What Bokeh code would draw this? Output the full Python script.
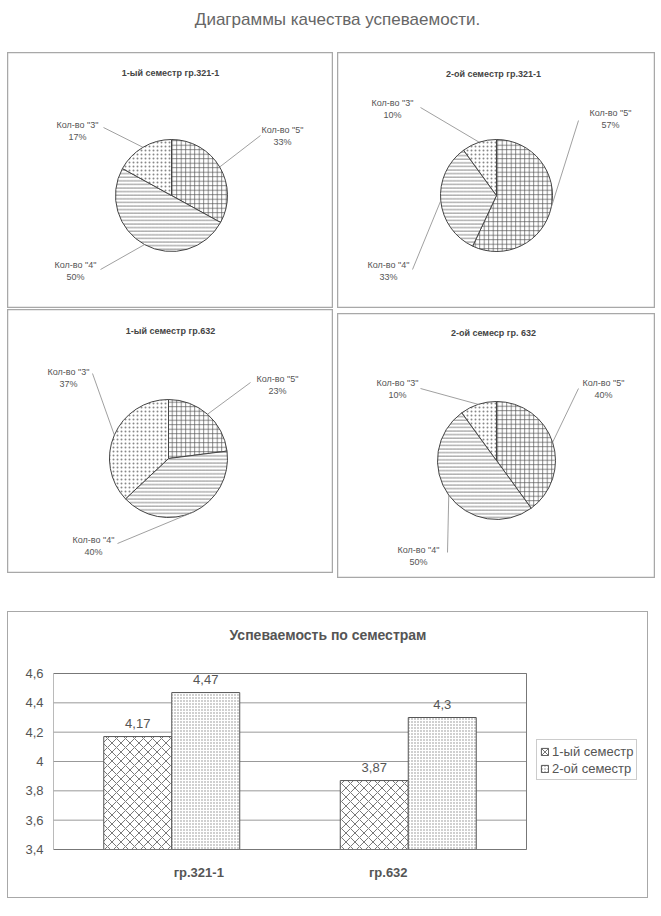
import numpy as np
from bokeh.plotting import figure
from bokeh.models import (Range1d, ColumnDataSource, Legend, LegendItem,
                          FixedTicker, CustomJSTickFormatter, Spacer)
from bokeh.layouts import column, row
from bokeh.transform import dodge
from bokeh.core.properties import value
from bokeh.embed import file_html
from bokeh.resources import INLINE

# ---------------- data ----------------
main_title = "Диаграммы качества успеваемости."
pie_titles = ["1-ый семестр гр.321-1", "2-ой семестр гр.321-1",
              "1-ый семестр гр.632", "2-ой семеср гр. 632"]
grade_labels = ['Кол-во "5"', 'Кол-во "4"', 'Кол-во "3"']
share_321_s1 = [33, 50, 17]
share_321_s2 = [57, 33, 10]
share_632_s1 = [23, 40, 37]
share_632_s2 = [40, 50, 10]

bar_title = "Успеваемость по семестрам"
groups = ["гр.321-1", "гр.632"]
semesters = ["1-ый семестр", "2-ой семестр"]
avg_sem1 = [4.17, 3.87]
avg_sem2 = [4.47, 4.3]
y_ticks = [3.4, 3.6, 3.8, 4.0, 4.2, 4.4, 4.6]

FONT = "Liberation Sans"
HATCH = ["+", "-", "."]
HSCALE = [4.5, 3.6, 4.0]
HWEIGHT = [0.7, 0.7, 0.4]
HCOLOR = ["#555555", "#555555", "#888888"]


def fmt_num(v):
    s = f"{v:.2f}".rstrip("0").rstrip(".")
    return s.replace(".", ",")


def bare_fig(W, H):
    p = figure(width=W, height=H, x_range=Range1d(0, W), y_range=Range1d(0, H),
               output_backend="svg", toolbar_location=None, min_border=0,
               x_axis_location=None, y_axis_location=None)
    p.grid.visible = False
    return p


def pie_panel(title, shares, origin, size, center, r, title_xy, blocks, leads):
    ox, oy = origin
    W, H = size
    lx = lambda x: x - ox
    ly = lambda y: H - (y - oy)
    p = bare_fig(W, H)
    p.outline_line_color = "#a8a8a8"
    p.outline_line_width = 1.5
    fr = np.array(shares, dtype=float) / sum(shares)
    cum = np.concatenate([[0.0], np.cumsum(fr)])
    start = np.pi / 2 - 2 * np.pi * cum[1:]
    end = np.pi / 2 - 2 * np.pi * cum[:-1]
    cx, cy = lx(center[0]), ly(center[1])
    for i in range(len(shares)):
        p.wedge(x=cx, y=cy, radius=r, start_angle=start[i], end_angle=end[i],
                fill_color="white", line_color="#444444", line_width=1,
                hatch_pattern=HATCH[i], hatch_scale=HSCALE[i],
                hatch_color=HCOLOR[i], hatch_weight=HWEIGHT[i])
    mid = (cum[1:] + cum[:-1]) / 2
    th = np.pi / 2 - 2 * np.pi * mid
    ex = cx + r * np.cos(th)
    ey = cy + r * np.sin(th)
    p.segment(x0=[lx(a) for a, b in leads], y0=[ly(b) for a, b in leads],
              x1=list(ex), y1=list(ey), line_color="#888888", line_width=0.8)
    p.text(x=[lx(b[0]) for b in blocks], y=[ly(b[1]) + 6 for b in blocks],
           text=grade_labels, text_align="center", text_baseline="middle",
           text_font=value(FONT), text_font_size="9px", text_color="#555555")
    p.text(x=[lx(b[0]) for b in blocks], y=[ly(b[1]) - 6 for b in blocks],
           text=[f"{s}%" for s in shares], text_align="center", text_baseline="middle",
           text_font=value(FONT), text_font_size="9px", text_color="#555555")
    p.text(x=[lx(title_xy[0])], y=[ly(title_xy[1])], text=[title],
           text_align="center", text_baseline="middle", text_font=value(FONT),
           text_font_size="9px", text_font_style="bold", text_color="#444444")
    return p


p1 = pie_panel(pie_titles[0], share_321_s1, (7, 52), (326, 256), (171, 195), 56, (170, 72),
               [(282, 135), (75, 270), (77, 130)], [(260, 135), (100, 269), (103, 127)])
p2 = pie_panel(pie_titles[1], share_321_s2, (337, 52), (318, 256), (496, 195), 56, (493, 73),
               [(610, 118), (388, 270), (392, 108)], [(578, 120), (412, 269), (420, 107)])
p3 = pie_panel(pie_titles[2], share_632_s1, (7, 309), (326, 264), (168, 458), 59, (170, 330),
               [(277, 384), (93, 545), (68, 377)], [(250, 382), (117, 543), (92, 373)])
p4 = pie_panel(pie_titles[3], share_632_s2, (337, 313), (318, 265), (496, 460), 59, (493, 332),
               [(603, 388), (418, 555), (397, 388)], [(578, 388), (447, 552), (420, 388)])

# ---------------- header ----------------
ph = bare_fig(655, 52)
ph.outline_line_color = None
ph.text(x=[337], y=[52 - 19], text=[main_title], text_align="center", text_baseline="middle",
        text_font=value(FONT), text_font_size="17px", text_color="#666666")

# ---------------- bar chart ----------------
PLOT_W, FRAME_W = 473, 594            # plot-area width vs. frame width (legend sits in the frame)
PLOT_H, TOP_PX, BOT_PX = 176, 61, 48  # plot-area height, space above / below it
n = len(groups)
xc = np.arange(n) + 0.5
k = (y_ticks[-1] - y_ticks[0]) / PLOT_H
src = ColumnDataSource(dict(xc=xc, s1=avg_sem1, s2=avg_sem2, group=groups,
                            t1=[fmt_num(v) for v in avg_sem1],
                            t2=[fmt_num(v) for v in avg_sem2],
                            base=[y_ticks[0]] * n, xo=[27, -20]))
pb = figure(frame_width=FRAME_W, frame_height=PLOT_H + TOP_PX + BOT_PX,
            x_range=Range1d(0, n * FRAME_W / PLOT_W),
            y_range=Range1d(y_ticks[0] - BOT_PX * k, y_ticks[-1] + TOP_PX * k),
            output_backend="svg", toolbar_location=None, x_axis_location=None,
            min_border_left=45, min_border_right=0, min_border_top=0, min_border_bottom=0)
pb.styles = {"outline": "1.5px solid #a8a8a8"}
pb.grid.visible = False
pb.outline_line_color = None

# horizontal grid lines across the plot area
pb.segment(x0=0, x1=n, y0=y_ticks, y1=y_ticks, line_color="#999999", line_width=1)

pb.yaxis.ticker = FixedTicker(ticks=y_ticks)
pb.yaxis.formatter = CustomJSTickFormatter(
    code="var s = (Math.round(tick*10)/10).toString(); return s.replace('.', ',');")
pb.yaxis.major_tick_out = 0
pb.yaxis.major_tick_in = 0
pb.yaxis.minor_tick_out = 0
pb.yaxis.minor_tick_in = 0
pb.yaxis.axis_line_color = None
pb.yaxis.major_label_standoff = 10
pb.yaxis.major_label_text_font_size = "13px"
pb.yaxis.major_label_text_font = FONT
pb.yaxis.major_label_text_color = "#555555"

bw = 0.2875
r1 = pb.vbar(x=dodge("xc", -bw / 2), top="s1", bottom="base", width=bw,
             source=src, fill_color="white", line_color="#555555", line_width=1,
             hatch_pattern="x", hatch_scale=9, hatch_color="#555555", hatch_weight=0.8)
r2 = pb.vbar(x=dodge("xc", bw / 2), top="s2", bottom="base", width=bw,
             source=src, fill_color="white", line_color="#555555", line_width=1,
             hatch_pattern=".", hatch_scale=3, hatch_color="#888888", hatch_weight=0.5)
pb.quad(left=0, right=n, bottom=y_ticks[0], top=y_ticks[-1], fill_color=None,
        line_color="#777777", line_width=1)
pb.text(x=dodge("xc", -bw / 2), y="s1", text="t1", source=src,
        y_offset=-13, text_align="center", text_baseline="middle", text_font=value(FONT),
        text_font_size="13px", text_color="#555555")
pb.text(x=dodge("xc", bw / 2), y="s2", text="t2", source=src,
        y_offset=-13, text_align="center", text_baseline="middle", text_font=value(FONT),
        text_font_size="13px", text_color="#555555")
# category labels under the plot area
pb.text(x="xc", y="base", text="group", x_offset="xo", y_offset=23, source=src,
        text_align="center", text_baseline="middle", text_font=value(FONT),
        text_font_size="13px", text_font_style="bold", text_color="#555555")
# chart title above the plot area
pb.text(x=[n / 2], y=[y_ticks[-1]], text=[bar_title], x_offset=38, y_offset=-39,
        text_align="center", text_baseline="middle", text_font=value(FONT),
        text_font_size="14px", text_font_style="bold", text_color="#555555")
legend = Legend(items=[LegendItem(label=semesters[0], renderers=[r1]),
                       LegendItem(label=semesters[1], renderers=[r2])],
                location=(483, BOT_PX + 69), border_line_color="#999999", border_line_width=1,
                padding=3, spacing=1, glyph_width=9, glyph_height=9, label_standoff=3,
                label_height=16, margin=0, label_text_font_size="13px",
                label_text_font=FONT, label_text_color="#555555")
pb.add_layout(legend)

layout = column(ph,
                row(Spacer(width=7, height=256), p1, Spacer(width=4, height=256), p2),
                Spacer(width=655, height=1),
                row(Spacer(width=7, height=264), p3, Spacer(width=4, height=264),
                    column(Spacer(width=318, height=4), p4)),
                Spacer(width=655, height=34),
                row(Spacer(width=8, height=285), pb))

open("out.html", "w").write(file_html(layout, INLINE))
